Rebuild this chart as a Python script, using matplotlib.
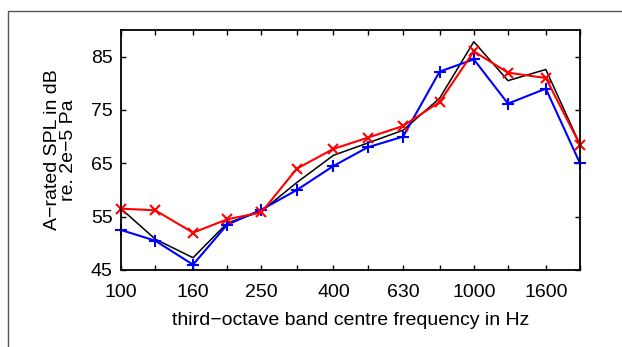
import matplotlib.pyplot as plt
from matplotlib.lines import Line2D
from matplotlib.ticker import NullLocator

# third-octave band centre frequencies (Hz)
bands = [100, 125, 160, 200, 250, 315, 400, 500, 630, 800, 1000, 1250, 1600, 2000]
tick_labels = ['100', '', '160', '', '250', '', '400', '', '630', '', '1000', '', '1600', '']

# A-rated SPL in dB
spl_black = [56.5, 50.8, 47.3, 53.8, 56.0, 61.4, 66.5, 68.8, 71.2, 77.2, 87.8, 80.5, 82.6, 68.5]
spl_blue = [52.5, 50.5, 46.0, 53.5, 56.3, 60.0, 64.5, 68.0, 70.0, 82.2, 84.5, 76.2, 79.0, 65.0]
spl_red = [56.5, 56.2, 52.0, 54.5, 55.8, 64.0, 67.7, 69.8, 72.0, 76.5, 86.0, 82.0, 81.0, 68.5]

plt.rcParams['font.family'] = ['Liberation Sans', 'DejaVu Sans']
plt.rcParams['font.size'] = 14

fig = plt.figure(figsize=(6.22, 3.47), dpi=100)
ax = fig.add_axes([121 / 622, 1 - 270 / 347, 459 / 622, 240 / 347])

ax.plot(bands, spl_black, color='black', lw=1.1, zorder=3)
ax.plot(bands, spl_blue, color='#0000ff', lw=1.5, marker='+', ms=9, mew=1.5, zorder=4)
ax.plot(bands, spl_red, color='#ff0000', lw=1.5, marker='x', ms=7, mew=1.5, zorder=5)

ax.set_xscale('log')
ax.set_xlim(100, 2000)
ax.set_ylim(45, 90)
ax.set_xticks(bands)
ax.set_xticklabels(tick_labels)
ax.xaxis.set_minor_locator(NullLocator())
ax.set_yticks([45, 55, 65, 75, 85])
ax.tick_params(direction='in', top=True, right=True, length=3.5, width=1, labelsize=14)
ax.tick_params(axis='x', pad=10)
ax.tick_params(axis='y', pad=6)
for sp in ax.spines.values():
    sp.set_linewidth(1.3)
    sp.set_zorder(6)
for ln in ax.lines:
    ln.set_clip_on(False)

ax.set_xlabel('third\u2212octave band centre frequency in Hz', labelpad=8)
ax.set_ylabel('A\u2212rated SPL in dB\nre. 2e\u22125 Pa', labelpad=10, linespacing=0.95)

# outer grey frame (top and left edges visible)
fig.add_artist(Line2D([8 / 622, 8 / 622, 1.0], [0.0, 1 - 11 / 347, 1 - 11 / 347],
                      transform=fig.transFigure, color='#555555', lw=1.0))

fig.savefig('out.png', dpi=100)
